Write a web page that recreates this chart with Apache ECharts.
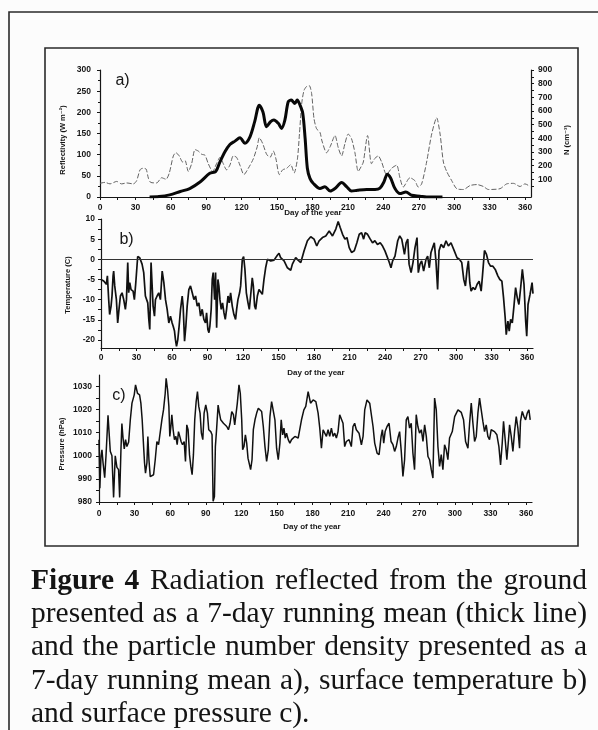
<!DOCTYPE html>
<html>
<head>
<meta charset="utf-8">
<script src="https://cdn.jsdelivr.net/npm/echarts@6/dist/echarts.min.js"></script>
<style>
  html, body { margin: 0; padding: 0; background: #fcfcfc; }
  #chart { width: 598px; height: 730px; }
</style>
</head>
<body>
<div id="chart"></div>
<script>
// ---- data: [day of year, value] ----
const dayTicks = [0, 30, 60, 90, 120, 150, 180, 210, 240, 270, 300, 330, 360];

// 7-day running mean of reflected radiation (W m-2)
const reflectivity = [
  [42,0],[50,1],[59,5],[68,13],[76,20],[85,36],[93,56],[98,60],[101.6,83],[105.8,107],
  [110,124],[114.3,132],[118.5,140],[122.7,127],[127,142],[131,178],[134.9,217],[138,201],
  [141,166],[144.5,178],[147.3,182],[151,174],[153.8,162],[156.6,182],[159.4,225],[162,229],
  [165,221],[167,229],[169.4,217],[171.7,198],[173.7,139],[175.6,68],[177.8,44],[180.7,32],
  [186.3,20],[190.5,24],[195,14],[199,20],[204.6,34],[209,24],[213,14],[218,16],[225.8,18],
  [232.9,18],[237.1,21],[240.5,36],[243.3,54],[246.1,45],[249.8,20],[254,8],[259,12],
  [263.9,4],[270.9,2],[276.5,0],[290,0]
];

// 7-day running mean of particle number density (cm-3)
const particleDensity = [
  [0,70],[4.2,77],[8.5,66],[14.1,84],[18.3,66],[22.6,73],[28.2,66],[31,89],[33.9,169],[36.1,180],
  [39,175],[41,107],[42.9,77],[48,73],[52.2,111],[55.9,100],[58.7,146],[62.1,271],[64.3,294],
  [67.1,271],[70,226],[72,237],[74.8,157],[77.6,214],[80.5,317],[83.3,306],[86.1,283],[88.9,276],
  [91.7,214],[95.4,157],[98.7,214],[101.6,260],[104.4,214],[107.2,169],[110,203],[112.9,271],
  [115.7,260],[118.5,203],[121.9,134],[125.6,180],[129.8,249],[133.2,340],[134.9,404],[137.7,363],
  [141.1,283],[144,260],[146.8,306],[149,249],[151.9,134],[154.7,169],[158.1,180],[161.5,207],
  [164.4,146],[167.2,249],[168.9,431],[170.9,660],[172.8,751],[175,780],[177.2,786],[179.2,729],
  [181.2,546],[183.4,470],[186.3,443],[188,380],[191.9,294],[195,340],[199,420],[201.8,330],
  [204.6,271],[207.4,360],[210.2,431],[213,397],[215.9,294],[218.7,157],[221,190],[223,226],
  [226.6,420],[229.9,214],[232.5,250],[235.6,271],[238.5,226],[242.7,134],[246.9,180],[251.2,203],
  [254,111],[256.8,43],[262.5,111],[266.7,89],[269.5,43],[272.4,66],[276.6,226],[280.9,431],
  [285.1,550],[288,431],[290.8,226],[293.6,157],[297.9,89],[302.1,31],[307.8,25],[313.4,54],
  [319.1,61],[324.7,47],[328.9,25],[338.8,31],[344.4,66],[350.1,70],[355.7,47],[359.9,66],[364.2,47]
];

// surface temperature (C)
const temperature = [
  [0,-5.0],[2.3,-5.4],[4.5,-6.2],[5.4,-4.1],[6.5,-10.0],[7.3,-13.7],[8.5,-11.6],[9.3,-9.1],
  [10.2,-4.1],[10.7,-2.9],[11.6,-6.6],[13,-10],[14.1,-15.8],[15.2,-12.4],[16.4,-9.1],[17.8,-8.3],
  [19.2,-10],[20.6,-12.4],[21.5,-10],[22.6,-0.8],[23.4,-8.3],[24.3,-5.8],[25.4,-7.5],[27.1,-7.9],
  [28.2,-10],[29.4,-5.8],[31,0.7],[32.7,0.4],[34.7,-1.2],[36.1,-3.3],[37.5,-9.1],[39.5,-10.8],
  [40.4,-14.9],[41.2,-17.4],[42.3,-0.8],[44,-11.6],[45.2,-14.1],[46,-10],[47.4,-9.1],[48.8,-8.3],
  [50.2,-10],[51.7,-2.9],[53.1,-5.8],[54.5,-10],[55.9,-12.4],[57.3,-15.8],[58.7,-14.1],[60.1,-15.8],
  [61,-16.6],[62.1,-17.8],[62.9,-19.9],[63.8,-21.6],[64.9,-19.9],[66,-16.6],[67.2,-12.4],[68.6,-9.1],
  [69.4,-11.6],[70.6,-20.3],[71.7,-16.6],[72.8,-11.6],[74.2,-7.5],[75.6,-6.6],[77.1,-8.3],[78.5,-10],
  [79.9,-9.1],[81.3,-11.6],[82.7,-10.8],[84.1,-14.1],[85.5,-12.4],[86.9,-14.9],[88.3,-15.8],[89.2,-13.3],
  [90.3,-17.4],[91.2,-18.2],[92,-16.6],[93.1,-12.4],[94,-5],[94.8,-3.3],[96,-10],[96.8,-3.3],
  [97.7,-17],[98.8,-5],[99.6,-6.6],[100.5,-10],[101.6,-12.4],[102.7,-10.8],[103.9,-13.3],[105,-14.9],
  [106.1,-12.4],[107.3,-9.1],[108.4,-10.8],[109.5,-8.3],[110.9,-11.6],[112.3,-13.7],[113.7,-14.9],
  [114.6,-12.4],[115.7,-10],[117.1,-8.3],[118,-6.6],[119.4,0],[120.5,0.7],[121.6,-2.5],[122.8,-8.3],
  [124.2,-10.8],[125.3,-12.4],[126.4,-9.1],[127.8,-4.6],[128.7,-6.6],[129.8,-11.6],[130.7,-12.4],
  [132.1,-9.1],[133.5,-7.5],[134.9,-7.9],[136.3,-8.7],[137.7,-5],[139.1,-2.1],[140.6,0],[143.4,-0.4],
  [146.2,-0.2],[149,1],[150.4,1.5],[151.8,0.4],[154.7,-0.4],[157.5,-2.1],[160.3,-2.7],[161.7,-1.2],
  [163.1,-0.4],[164.5,0.4],[166.5,-0.2],[168.8,-0.8],[171.6,2.1],[174.4,4.6],[177.2,5.6],[180,5],
  [182.3,3.3],[184.3,4.6],[187.1,5.4],[189.9,5.8],[192.8,7],[195.6,5.8],[198.4,7.5],[200.4,9.4],
  [202.1,7.9],[204.1,6.2],[206.1,5],[207.8,5.4],[209.7,2.9],[211.7,1.7],[214,2.1],[216.2,4.1],
  [218.2,6.2],[220.2,6.6],[221.9,5],[223.2,6.6],[225.2,6.2],[227.5,5],[229.4,4.1],[231.4,4.6],
  [233.6,3.7],[235.9,4.1],[237.9,3.3],[239.9,2.1],[241.6,0.8],[243.6,-0.8],[245,-2.1],[246.4,-0.4],
  [248.4,0.8],[250.7,4.6],[252.4,5.8],[254.1,5],[256.4,1.2],[257.8,4.1],[259.2,5],[260.3,-1.2],
  [262,-3.3],[263.6,-0.8],[265.3,2.9],[267,5.4],[268.1,-3.3],[269.5,-1.2],[270.9,-0.4],[272.6,-2.9],
  [274.6,0],[276,0.8],[277.4,-2.1],[278.8,1.7],[280.2,2.9],[281.6,4.1],[283,-0.4],[284.4,-7.5],
  [285.6,2.1],[287.3,3.7],[289.5,2.9],[291.5,4.6],[293.5,3.3],[295.7,4.1],[298.5,2.1],[300.8,0.4],
  [302.8,0],[304.8,-0.8],[306.5,-5],[307.9,-6.6],[309.3,-2.5],[310.4,-0.4],[311.6,-5.8],[312.7,-7.9],
  [314.4,-7],[316.1,-7.5],[317.8,-6.2],[319.5,-5.4],[321.2,-7.9],[322.3,-4.1],[324,2.2],[325.7,1.2],
  [327.4,-0.8],[329.1,-1.7],[331.1,-1.7],[333.1,-2.5],[335.3,-4.1],[337,-5],[338.7,-5.4],[340.1,-9.5],
  [341.5,-14.5],[342.4,-18.7],[343.8,-15.3],[344.9,-17.8],[346.1,-14.9],[347.5,-15.8],[348.9,-11.6],
  [350.3,-7],[351.7,-9.5],[353.1,-11.2],[354.6,-7],[356,-2.5],[357.4,-6.2],[358.8,-15.3],[359.7,-19.1],
  [360.8,-11.2],[362.5,-8.7],[364.2,-5.8],[365,-8.5]
];

// surface pressure (hPa)
const pressure = [
  [0,1007],[0.7,986],[1.7,1000],[2.5,1002.6],[3.4,997],[4.8,990.5],[5.9,1000],[7.6,1017.5],
  [9.5,1002],[10.9,1000],[12.3,982],[13.7,1000],[15.1,995],[16.5,994],[17.4,982],[18.5,1002.6],
  [19.3,1014],[20.2,1008],[21.3,1003],[22.4,1007],[23.5,1004],[25,1006],[26.4,1015.6],[27.8,1022.8],
  [29.7,1026.4],[30.8,1030.7],[32.5,1027],[34.2,1026.4],[35.3,1022.8],[36.4,1015.6],[37.6,1004],
  [38.4,996.9],[39.2,992.5],[40.4,997],[41.2,1008.4],[42.1,998.3],[43.2,991],[44.6,990.4],[46,991.8],
  [47.4,998.3],[48.8,1006.2],[50.2,1004.8],[51.6,1004],[53,1015.6],[54.4,1020],[55.8,1027],
  [56.6,1033.6],[57.8,1028.6],[58.9,1021.4],[59.7,1008.4],[60.6,1012.7],[61.4,1017.8],[62.5,1011.3],
  [63.6,1007],[64.8,1008.4],[65.9,1004.8],[67,1010.5],[68.1,1008.4],[69.2,1006.2],[70.4,1004.8],
  [71.8,1006.2],[72.9,997.6],[74,1013.4],[75.1,1011.3],[76.3,1000.5],[77.4,995.4],[78.5,991.8],
  [79.6,1000.5],[80.7,1015.6],[81.9,1023.5],[83,1027.8],[84.1,1021.4],[85.2,1018.5],[86.3,1009.8],
  [87.5,1007],[88.6,1018.5],[90,1022],[91.4,1018.5],[92.5,1011.3],[94.2,1010.5],[95.3,1009.1],
  [96.2,980.3],[97.3,982.4],[98.1,1004],[99.2,1012],[100.4,1022],[101.5,1018.5],[102.6,1015.6],
  [103.7,1014.9],[104.9,1014.1],[106.3,1013.4],[107.7,1012.7],[109.1,1011.3],[110.5,1014.1],
  [111.9,1019.2],[113.3,1017.8],[114.4,1013.4],[115.5,1014.1],[116.6,1022.8],[118,1030.7],
  [119.1,1027.1],[120.3,1015.6],[121.1,1002.6],[122.2,1004],[123.4,1009.1],[124.5,1005.5],
  [125.6,999],[126.7,999],[127.8,994],[129,998.3],[130.1,1011.3],[131.5,1015.6],[132.9,1018.5],
  [134.3,1020.6],[135.7,1021.4],[137.1,1019.2],[138.5,1012.7],[139.9,1004],[141.3,997.6],
  [142.7,1002.6],[144.1,1017],[145.5,1023.5],[146.9,1022.8],[148.3,1015.6],[149.7,1003.3],
  [151.1,998.3],[152.5,1005.5],[153.6,1015.6],[154.8,1009.1],[155.9,1012],[157,1007.7],[158.1,1009.8],
  [159.5,1007],[160.9,1005.5],[162.3,1007],[163.7,1006.2],[165.1,1008.4],[166.5,1009.1],[167.9,1007.7],
  [169.3,1008.4],[170.7,1015.6],[172.7,1019.9],[174.3,1021.4],[176.3,1027.8],[178.3,1022.8],
  [180.5,1024.2],[182.8,1023.5],[184.7,1018.5],[186.1,1012],[187.5,1003.3],[188.9,1011.3],
  [190.3,1009.8],[191.7,1008.4],[193.1,1011.3],[194.5,1008.4],[195.9,1012],[197.3,1008.4],
  [198.7,1009.8],[200.1,1007.7],[201.5,1010.5],[202.9,1017.8],[204.3,1018.5],[205.7,1014.1],
  [207.1,1004],[208.5,1006.2],[210.8,1007],[212.7,1004],[214.1,1012.7],[215.5,1014.1],[216.9,1011.3],
  [219.2,1009.8],[221.2,1004.8],[222.6,1008.4],[224,1019.9],[225.9,1024.2],[228.2,1022.8],[229.6,1022],
  [231,1012.7],[232.4,1005.5],[234.4,1001.2],[236.1,1000.5],[237.8,1008.4],[238.9,1011.3],[240,1005.5],
  [241.2,1010.5],[242.8,1012.7],[244.5,1014.1],[246.2,1006.2],[247.8,1004.8],[249.2,1001.9],[250.6,1004],
  [252,1007.7],[253.4,1010.5],[254.8,1001.9],[256.2,991.1],[257.6,998.3],[259,1015.6],[260.4,1017],
  [261.8,1012],[263.2,1014.1],[264.6,1001.2],[266,994],[267.4,1017.8],[268.8,1012.7],[270.2,1009.8],
  [271.7,1011.3],[273.1,1006.2],[274.5,1013.4],[275.9,1008.4],[277.3,999.7],[278.7,998.3],[280.1,994],
  [281.5,990.4],[282.9,1025],[284.3,1019.9],[285.7,1004],[287.1,995.4],[288.5,1000.5],[289.9,994],
  [291.3,1004.8],[292.7,1002.6],[294.1,998.3],[295.5,1007.7],[297.8,1010.5],[299.8,1017],[302.6,1019.9],
  [305.4,1018.8],[307.3,1015.6],[309,1006.2],[311,1003.3],[312.4,1014.1],[313.8,1022.8],[315.2,1014.1],
  [316.6,1006.2],[318,1008.4],[319.4,1018.5],[320.8,1025],[322.2,1019.9],[323.6,1014.9],[325,1010.5],
  [326.4,1013.4],[327.8,1008.4],[329.2,1007],[330.6,1011.3],[333.4,1010.5],[335.4,1009.1],[337.1,1004],
  [338.5,996.1],[339.9,1005.5],[341,1014.9],[342.4,1007],[343.8,998.3],[345.2,1007],[346.1,1013.4],
  [347.5,1008.4],[348.9,1001.9],[350.3,1010.5],[351.7,1017],[353.1,1012],[354.5,1003.3],[355.3,1014.9],
  [356.8,1019.2],[358.2,1017],[359.6,1015.6],[361,1018.5],[362.4,1019.9],[363.5,1015.6]
];

const reflTicks = [0, 50, 100, 150, 200, 250, 300];
const densityTicks = [100, 200, 300, 400, 500, 600, 700, 800, 900];
const tempTicks = [-20, -15, -10, -5, 0, 5, 10];
const presTicks = [980, 990, 1000, 1010, 1020, 1030];

const captionLines = [
  { bold: 'Figure 4', text: 'Radiation reflected from the ground', justify: true },
  { bold: '', text: 'presented as a 7-day running mean (thick line)', justify: true },
  { bold: '', text: 'and the particle number density presented as a', justify: true },
  { bold: '', text: '7-day running mean a), surface temperature b)', justify: true },
  { bold: '', text: 'and surface pressure c).', justify: false }
];

// ---- styling helpers ----
const INK = '#161616';
const SANS = '"Liberation Sans", Arial, "DejaVu Sans", sans-serif';
const SERIF = '"Liberation Serif", "Times New Roman", serif';
const tickFont = { fontSize: 8.5, fontWeight: 'bold', color: INK, fontFamily: SANS, formatter: v => String(v) };

function minorSteps(values, step) {
  const out = [];
  for (let v = values[0]; v <= values[values.length - 1] + 1e-9; v += step) out.push(+v.toFixed(3));
  return out;
}

function dayAxis(gridIndex, margin) {
  return {
    type: 'value', gridIndex, min: 0, max: 365,
    axisLine: { show: true, onZero: false, lineStyle: { color: INK, width: 1.2 } },
    axisTick: { show: true, customValues: minorSteps(dayTicks, 15), length: 3, lineStyle: { color: INK } },
    axisLabel: Object.assign({ customValues: dayTicks, margin }, tickFont),
    splitLine: { show: false }
  };
}

function valueAxis(gridIndex, opts) {
  return Object.assign({
    type: 'value', gridIndex, position: 'left',
    axisLine: { show: true, onZero: false, lineStyle: { color: INK, width: 1.2 } },
    splitLine: { show: false }
  }, opts);
}

// ---- caption layout (justified lines, measured word by word) ----
const measureCtx = document.createElement('canvas').getContext('2d');
const CAP_SIZE = 29.5;
const CAP_LEFT = 31, CAP_RIGHT = 587;
const capFirstBaseline = 591, capLineStep = 33.3;

function captionGraphics() {
  const out = [];
  captionLines.forEach((line, i) => {
    const words = [];
    if (line.bold) line.bold.split(' ').forEach(w => words.push({ w, bold: true }));
    line.text.split(' ').forEach(w => words.push({ w, bold: false }));
    words.forEach(t => {
      t.font = (t.bold ? 'bold ' : '') + CAP_SIZE + 'px ' + SERIF;
      measureCtx.font = t.font;
      t.width = measureCtx.measureText(t.w).width;
    });
    measureCtx.font = CAP_SIZE + 'px ' + SERIF;
    const space = measureCtx.measureText(' ').width;
    const total = words.reduce((s, t) => s + t.width, 0);
    const gap = line.justify ? (CAP_RIGHT - CAP_LEFT - total) / (words.length - 1) : space;
    let x = CAP_LEFT;
    const y = capFirstBaseline + i * capLineStep - 10;
    words.forEach(t => {
      out.push({
        type: 'text', x, y, silent: true,
        style: { text: t.w, font: t.font, fill: '#141414', align: 'left', verticalAlign: 'middle' }
      });
      x += t.width + gap;
    });
  });
  return out;
}

function label(text, x, y, font, rotate) {
  return {
    type: 'text', x, y, rotation: rotate ? Math.PI / 2 : 0, silent: true,
    style: { text, font, fill: INK, align: 'center', verticalAlign: 'middle' }
  };
}

const nameFont = 'bold 7.5px ' + SANS;
const titleFont = 'bold 8px ' + SANS;
const panelFont = '16px ' + SANS;

const chart = echarts.init(document.getElementById('chart'), null, { renderer: 'canvas' });

chart.setOption({
  animation: false,
  backgroundColor: '#fcfcfc',
  grid: [
    { left: 100, top: 70, width: 431, height: 127 },
    { left: 101, top: 219, width: 432, height: 129 },
    { left: 99, top: 375, width: 433, height: 127 }
  ],
  xAxis: [dayAxis(0, 6), dayAxis(1, 5), dayAxis(2, 7)],
  yAxis: [
    valueAxis(0, {
      min: 0, max: 300, interval: 50,
      axisTick: { show: true, length: 3, lineStyle: { color: INK } },
      minorTick: { show: true, splitNumber: 2, length: 2, lineStyle: { color: INK } },
      axisLabel: Object.assign({ margin: 9 }, tickFont)
    }),
    valueAxis(0, {
      position: 'right', min: -30, max: 900,
      axisTick: { show: true, customValues: minorSteps([50, 900], 50), length: 3, lineStyle: { color: INK } },
      axisLabel: Object.assign({ customValues: densityTicks, margin: 7 }, tickFont)
    }),
    valueAxis(1, {
      min: -22, max: 10,
      axisTick: { show: true, customValues: minorSteps(tempTicks, 2.5), length: 3, lineStyle: { color: INK } },
      axisLabel: Object.assign({ customValues: tempTicks, margin: 6 }, tickFont)
    }),
    valueAxis(2, {
      min: 980, max: 1035, interval: 10,
      axisTick: { show: true, customValues: minorSteps(presTicks, 5), length: 3, lineStyle: { color: INK } },
      axisLabel: Object.assign({ customValues: presTicks, margin: 7 }, tickFont)
    })
  ],
  series: [
    {
      name: 'Reflectivity', type: 'line', xAxisIndex: 0, yAxisIndex: 0,
      data: reflectivity, showSymbol: false, smooth: 0.3, z: 4,
      lineStyle: { color: '#080808', width: 3 }
    },
    {
      name: 'N', type: 'line', xAxisIndex: 0, yAxisIndex: 1,
      data: particleDensity, showSymbol: false, smooth: 0.25, z: 3,
      lineStyle: { color: '#636363', width: 1, type: [5, 2] }
    },
    {
      name: 'Temperature', type: 'line', xAxisIndex: 1, yAxisIndex: 2,
      data: temperature, showSymbol: false, z: 3,
      lineStyle: { color: '#111', width: 1.7 },
      markLine: {
        silent: true, symbol: ['none', 'none'], label: { show: false },
        lineStyle: { color: '#333', width: 1, type: 'solid' },
        data: [{ yAxis: 0 }]
      }
    },
    {
      name: 'Pressure', type: 'line', xAxisIndex: 2, yAxisIndex: 3,
      data: pressure, showSymbol: false, z: 3,
      lineStyle: { color: '#111', width: 1.5 }
    }
  ],
  graphic: [
    // page frame and figure box
    { type: 'polyline', silent: true, shape: { points: [[9, 730], [9, 12], [598, 12]] },
      style: { stroke: '#2a2a2a', lineWidth: 1.6, fill: null } },
    { type: 'rect', silent: true, shape: { x: 45, y: 48, width: 533, height: 498 },
      style: { stroke: '#2a2a2a', lineWidth: 1.6, fill: null } },
    // panel letters
    label('a)', 122.5, 80.5, panelFont),
    label('b)', 126.5, 239.5, panelFont),
    label('c)', 119, 395.5, panelFont),
    // axis titles
    label('Reflectivity (W m⁻²)', 63, 140, nameFont, true),
    label('N (cm⁻³)', 567, 140, nameFont, true),
    label('Temperature (C)', 68, 285, nameFont, true),
    label('Pressure (hPa)', 62, 444, nameFont, true),
    label('Day of the year', 313, 213, titleFont),
    label('Day of the year', 316, 373, titleFont),
    label('Day of the year', 312, 527, titleFont)
  ].concat(captionGraphics())
});
</script>
</body>
</html>
